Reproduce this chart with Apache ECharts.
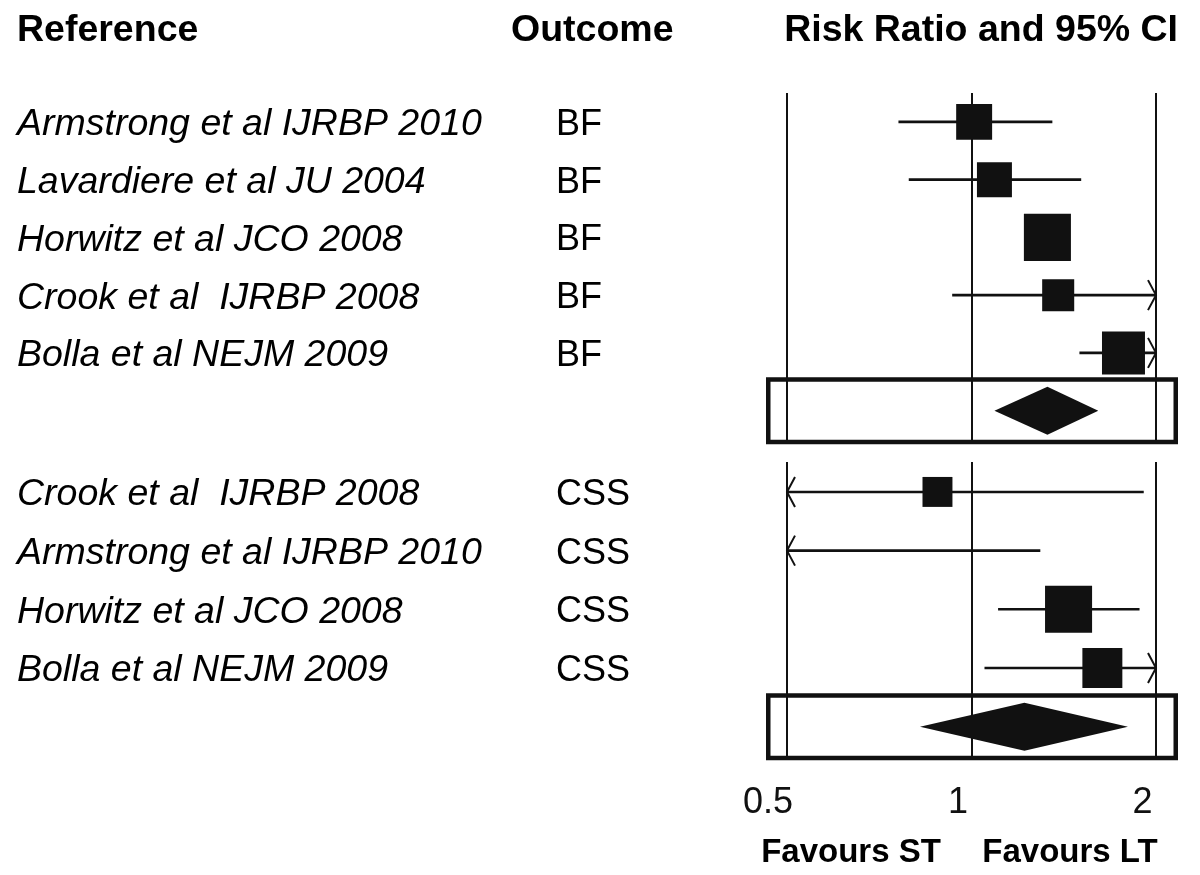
<!DOCTYPE html>
<html><head><meta charset="utf-8">
<script src="https://cdn.jsdelivr.net/npm/echarts@6/dist/echarts.min.js"></script>
<style>html,body{margin:0;padding:0;background:#fff}#c{width:1200px;height:875px}</style>
</head><body><div id="c"></div>
<script>
// ---- data ----
const refsBF = ['Armstrong et al IJRBP 2010', 'Lavardiere et al JU 2004', 'Horwitz et al JCO 2008', 'Crook et al  IJRBP 2008', 'Bolla et al NEJM 2009'];
const outcomesBF = ['BF', 'BF', 'BF', 'BF', 'BF'];
const estBF = [1.01, 1.09, 1.33, 1.385, 1.77];
const lowBF = [0.76, 0.79, 1.25, 0.93, 1.50];
const highBF = [1.355, 1.51, 1.41, 2.6, 2.3];
const weightBF = [17.0, 16.1, 29.1, 13.5, 24.3];
const pooledBF = [1.09, 1.33, 1.61]; // low, estimate, high

const refsCSS = ['Crook et al  IJRBP 2008', 'Armstrong et al IJRBP 2010', 'Horwitz et al JCO 2008', 'Bolla et al NEJM 2009'];
const outcomesCSS = ['CSS', 'CSS', 'CSS', 'CSS'];
const estCSS = [0.88, 0.38, 1.44, 1.635];
const lowCSS = [0.35, 0.11, 1.105, 1.05];
const highCSS = [1.91, 1.295, 1.88, 2.5];
const weightCSS = [11.8, 6.0, 29.1, 21.0];
const pooledCSS = [0.824, 1.22, 1.80];

const headers = ['Reference', 'Outcome', 'Risk Ratio and 95% CI'];
const favourLabels = ['Favours ST', 'Favours LT'];

// ---- rendering ----
const FF = '"Liberation Sans", Arial, Helvetica, sans-serif';
const chart = echarts.init(document.getElementById('c'));

function buildData(est, low, high, weight, pooled) {
  const d = est.map((e, i) => [i, e, low[i], high[i], weight[i], 0]);
  d.push([est.length, pooled[1], pooled[0], pooled[2], 0, 1]);
  return d;
}

function txt(text, x, y, font, align) {
  return { type: 'text', x: x, y: y, style: { text: text, font: font, fill: '#000', textAlign: align, textVerticalAlign: 'middle', align: align, verticalAlign: 'middle' } };
}

function makeSeries(idx, refs, outs, est, low, high, weight, pooled) {
  return {
    type: 'custom',
    xAxisIndex: idx, yAxisIndex: idx,
    clip: false,
    encode: { x: [1, 2, 3], y: 0 },
    data: buildData(est, low, high, weight, pooled),
    renderItem: function (params, api) {
      const row = api.value(0), e = api.value(1), lo = api.value(2), hi = api.value(3), w = api.value(4), kind = api.value(5);
      const cs = params.coordSys;
      const xMin = cs.x, xMax = cs.x + cs.width;
      const yc = api.coord([1, row])[1];
      const px = v => api.coord([v, row])[0];
      const children = [];
      if (kind === 0) {
        const i = params.dataIndex;
        children.push(txt(refs[i], 17, yc + 3, 'italic 37.5px ' + FF, 'left'));
        children.push(txt(outs[i], 556, yc + 3, '36px ' + FF, 'left'));
        const xl = px(lo), xh = px(hi);
        const a = Math.max(xl, xMin), b = Math.min(xh, xMax);
        children.push({ type: 'line', shape: { x1: a, y1: yc, x2: b, y2: yc }, style: { stroke: '#111', lineWidth: 2.6 } });
        if (xl < xMin) children.push({ type: 'polyline', shape: { points: [[xMin + 8, yc - 15], [xMin, yc], [xMin + 8, yc + 15]] }, style: { stroke: '#111', lineWidth: 2, fill: null } });
        if (xh > xMax) children.push({ type: 'polyline', shape: { points: [[xMax - 8, yc - 15], [xMax, yc], [xMax - 8, yc + 15]] }, style: { stroke: '#111', lineWidth: 2, fill: null } });
        const xe = px(e);
        if (xe >= xMin && xe <= xMax) {
          const s = 8.72 * Math.sqrt(w);
          children.push({ type: 'rect', shape: { x: xe - s / 2, y: yc - s / 2, width: s, height: s }, style: { fill: '#111' } });
        }
      } else {
        const lw = 4.5;
        children.push({ type: 'rect', shape: { x: xMin - 21 + lw / 2, y: yc - 33.5 + lw / 2, width: (xMax - xMin) + 43 - lw, height: 67 - lw }, style: { fill: null, stroke: '#111', lineWidth: lw } });
        const h = 24;
        children.push({ type: 'polygon', shape: { points: [[px(lo), yc], [px(e), yc - h], [px(hi), yc], [px(e), yc + h]] }, style: { fill: '#111' } });
      }
      return { type: 'group', children: children };
    }
  };
}

function xAxisCfg(idx, showLabels) {
  return {
    type: 'log', logBase: 2, gridIndex: idx, min: 0.5, max: 2,
    axisLine: { show: false }, axisTick: { show: false },
    splitLine: { show: true, lineStyle: { color: '#111', width: 2 } },
    axisLabel: showLabels ? {
      margin: 29, color: '#111', fontSize: 36, fontFamily: FF,
      formatter: v => (v < 0.75 ? '{a|' + v + '}' : '{b|' + v + '}'),
      rich: {
        a: { fontSize: 36, fontFamily: FF, color: '#111', padding: [0, 38, 0, 0] },
        b: { fontSize: 36, fontFamily: FF, color: '#111', padding: [0, 27, 0, 0] }
      }
    } : { show: false }
  };
}

const option = {
  backgroundColor: '#fff',
  animation: false,
  grid: [
    { left: 787, width: 369, top: 93, height: 350 },
    { left: 787, width: 369, top: 462, height: 294 }
  ],
  xAxis: [xAxisCfg(0, false), xAxisCfg(1, true)],
  yAxis: [
    { type: 'value', gridIndex: 0, inverse: true, min: -0.5, max: 5.56, show: false, splitLine: { show: false } },
    { type: 'value', gridIndex: 1, inverse: true, min: -0.51, max: 4.5, show: false, splitLine: { show: false } }
  ],
  graphic: [
    txt(headers[0], 17, 31, 'bold 37.5px ' + FF, 'left'),
    txt(headers[1], 511, 31, 'bold 37.5px ' + FF, 'left'),
    txt(headers[2], 1178, 31, 'bold 37.5px ' + FF, 'right'),
    txt(favourLabels[0], 851, 853, 'bold 33px ' + FF, 'center'),
    txt(favourLabels[1], 1070, 853, 'bold 33px ' + FF, 'center')
  ],
  series: [
    makeSeries(0, refsBF, outcomesBF, estBF, lowBF, highBF, weightBF, pooledBF),
    makeSeries(1, refsCSS, outcomesCSS, estCSS, lowCSS, highCSS, weightCSS, pooledCSS)
  ]
};
chart.setOption(option);
</script>
</body></html>
